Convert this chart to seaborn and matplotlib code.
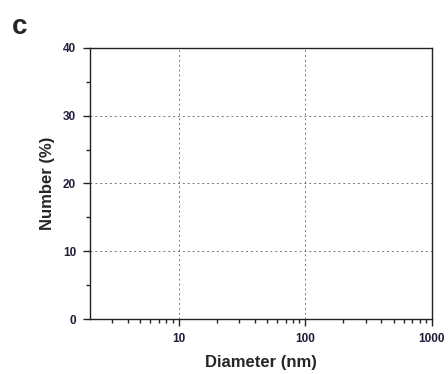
import matplotlib
matplotlib.use('Agg')
import matplotlib.pyplot as plt
import seaborn as sns
import numpy as np
from matplotlib.ticker import FixedLocator, NullFormatter

# Axis data (empty panel: only scales, ticks and grid)
x_limits = [2, 1000]
y_limits = [0, 40]
x_major = [10, 100, 1000]
x_labels = ['10', '100', '1000']
x_minor = [3, 4, 5, 6, 7, 8, 9, 20, 30, 40, 50, 60, 70, 80, 90,
           200, 300, 400, 500, 600, 700, 800, 900]
y_major = [0, 10, 20, 30, 40]
y_minor = [5, 15, 25, 35]

sns.set_theme(style="ticks")
plt.rcParams['font.family'] = ['Liberation Sans', 'DejaVu Sans']

fig = plt.figure(figsize=(4.48, 3.74), dpi=100)
ax = fig.add_axes([0.201, 0.147, 0.763, 0.725])

ax.set_xscale('log')
ax.set_xlim(x_limits)
ax.set_ylim(y_limits)

ax.xaxis.set_major_locator(FixedLocator(x_major))
ax.set_xticklabels(x_labels)
ax.xaxis.set_minor_locator(FixedLocator(x_minor))
ax.xaxis.set_minor_formatter(NullFormatter())
ax.set_yticks(y_major)
ax.yaxis.set_minor_locator(FixedLocator(y_minor))

ax.grid(True, which='major', linestyle=(0, (2, 3)), color='#777777', linewidth=0.7)

for s in ax.spines.values():
    s.set_linewidth(1.0)
    s.set_color('#222222')

ax.tick_params(which='major', direction='out', length=5, width=1.0, color='#222222',
               labelsize=8.5, labelcolor='#1e1e3c', pad=5)
ax.tick_params(which='minor', direction='out', length=3, width=1.0, color='#222222')
for lab in ax.get_xticklabels() + ax.get_yticklabels():
    lab.set_fontweight('bold')

ax.set_xlabel('Diameter (nm)', fontsize=12, fontweight='bold', labelpad=7)
ax.set_ylabel('Number (%)', fontsize=12, fontweight='bold', labelpad=6)

fig.text(0.027, 0.928, 'c', fontsize=20, fontweight='bold', ha='left', va='center')

fig.savefig('out.png', dpi=100)
